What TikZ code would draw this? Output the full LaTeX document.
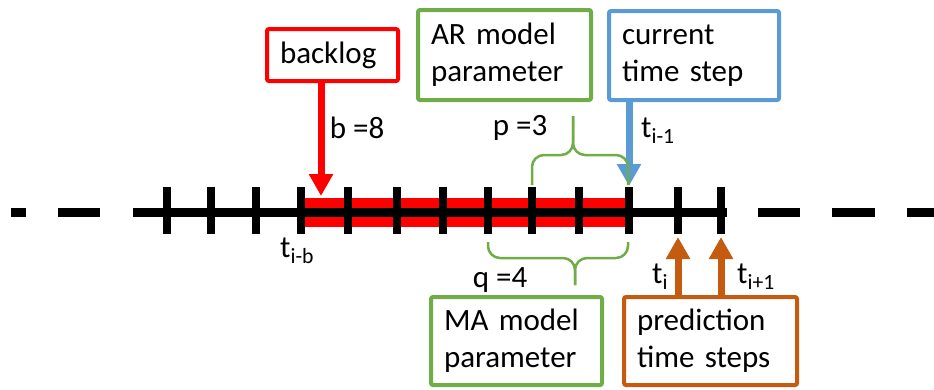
\documentclass[tikz,border=0pt]{standalone}
\usepackage{fontspec}
\setmainfont{Carlito}
\usetikzlibrary{arrows.meta}
\definecolor{mred}{HTML}{FF0000}
\definecolor{mgreen}{HTML}{70AD47}
\definecolor{mblue}{HTML}{5B9BD5}
\definecolor{morange}{HTML}{C55A11}
\tikzset{
  box/.style={draw, line width=4pt, rounded corners=2pt, anchor=north west,
    align=left, inner xsep=13pt, inner ysep=4pt},
  axis/.style={line width=9pt},
  tick/.style={line width=8pt},
  pointer/.style={line width=7pt, -{Triangle[width=23pt,length=22pt]}},
  brace/.style={mgreen, line width=2.5pt, rounded corners=12pt},
  lbl/.style={inner sep=0pt}
}
\begin{document}
\begin{tikzpicture}[x=1pt, y=-1pt, font=\fontsize{31}{37}\selectfont]
  \useasboundingbox (0,0) rectangle (934,389);

  % time axis
  \draw[mred, line width=29pt] (305,212) -- (629,212);
  \draw[axis] (133,212) -- (727,212);
  \foreach \a/\b in {11/26, 58/100, 758/800, 832/875, 907/934}
    \draw[axis] (\a,212) -- (\b,212);
  \foreach \x in {167,211,256,301,348,397,443,488,532,579,629,678,721}
    \draw[tick] (\x,187) -- (\x,234);

  % boxes
  \node[box, mred, text=black, text width=105pt, minimum height=52pt] (backlog) at (265,27) {backlog};
  \node[box, mgreen, text=black, text width=147pt, minimum height=90pt] (ar) at (416,8) {AR model\\parameter};
  \node[box, mblue, text=black, text width=144pt, minimum height=89pt] (cur) at (607,9) {current\\time step};
  \node[box, mgreen, text=black, text width=145pt, minimum height=88pt] (ma) at (429,295) {MA model\\parameter};
  \node[box, morange, text=black, text width=147pt, minimum height=88pt] (pred) at (622,295) {prediction\\time steps};

  % arrows
  \coordinate (tb) at (321,196);
  \coordinate (tc) at (629,186);
  \coordinate (tp) at (678,237);
  \coordinate (tq) at (721,237);
  \draw[pointer, mred] (backlog.south -| tb) -- (tb);
  \draw[pointer, mblue] (cur.south -| tc) -- (tc);
  \draw[pointer, morange] (pred.north -| tp) -- (tp);
  \draw[pointer, morange] (pred.north -| tq) -- (tq);

  % braces
  \draw[brace] (532,185) -- (532,155) -- (573,155) -- (573,116);
  \draw[brace] (628,185) -- (628,155) -- (573,155) -- (573,116);
  \draw[brace] (488,242) -- (488,258) -- (575,258) -- (575,285);
  \draw[brace] (628,242) -- (628,258) -- (575,258) -- (575,285);

  % labels
  \node[lbl] (b) at (357,128) {b =8};
  \node[lbl] (p) at (520,128) {p =3};
  \node[lbl] (q) at (500,280) {q =4};
  \node[lbl, anchor=base west] (tib) at (280,257) {t\textsubscript{i-b}};
  \node[lbl, anchor=base west] (tim) at (641,137) {t\textsubscript{i-1}};
  \node[lbl, anchor=base west] (ti) at (652,283) {t\textsubscript{i}};
  \node[lbl, anchor=base west] (tii) at (737,283) {t\textsubscript{i+1}};
\end{tikzpicture}
\end{document}
